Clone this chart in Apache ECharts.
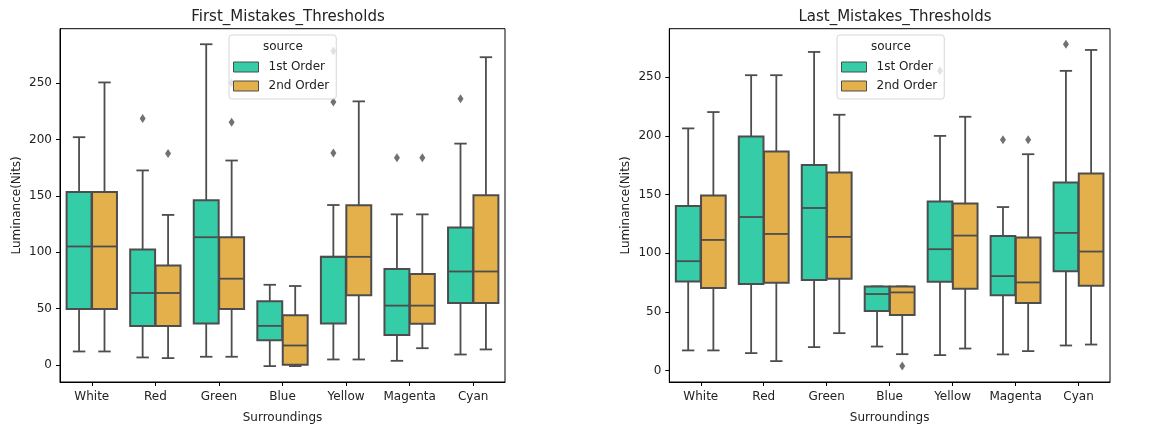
<!DOCTYPE html>
<html>
<head>
<meta charset="utf-8">
<script src="https://cdn.jsdelivr.net/npm/echarts@6/dist/echarts.min.js"></script>
<style>
  html, body { margin: 0; padding: 0; background: #fff; }
  #main { width: 1155px; height: 429px; }
</style>
</head>
<body>
<div id="main"></div>
<script>
// categories and tick labels
var categories = ['White', 'Red', 'Green', 'Blue', 'Yellow', 'Magenta', 'Cyan'];
var yTicksLeft = [0, 50, 100, 150, 200, 250];
var yTicksRight = [0, 50, 100, 150, 200, 250];

// box values: [low whisker, Q1, median, Q3, high whisker]
var firstMistakes1st = [
	[11.8, 49.5, 105, 153.3, 202],
	[6.5, 34.5, 63.7, 102.3, 172.5],
	[7.1, 36.6, 113.2, 146, 284.5],
	[-1.2, 21.8, 34.5, 56.3, 71],
	[4.7, 36.6, 95.8, 95.8, 141.8],
	[3.5, 26.5, 52.5, 84.9, 133.5],
	[9.1, 54.8, 82.8, 121.8, 196.3]
];
var firstMistakes2nd = [
	[11.8, 49.5, 105, 153.3, 250.6],
	[5.9, 34.5, 63.7, 88.1, 133],
	[7.1, 49.5, 76.4, 113.2, 181.3],
	[-1.2, 0, 17.1, 43.9, 69.9],
	[4.7, 61.6, 95.8, 141.5, 233.8],
	[14.7, 36.3, 52.5, 80.5, 133.5],
	[13.6, 54.8, 82.8, 150.4, 273]
];
var lastMistakes1st = [
	[17.3, 76.1, 93.3, 140.3, 206.4],
	[15, 73.8, 130.9, 199.4, 251.7],
	[20.1, 77.2, 138.6, 175.3, 271.5],
	[20.6, 50.9, 65.3, 71.8, 71.8],
	[13.3, 75.8, 103.5, 144.2, 200],
	[13.9, 64.2, 80.6, 114.8, 139.4],
	[21.5, 84.8, 117.4, 160.4, 255.4]
];
var lastMistakes2nd = [
	[17.3, 70.4, 111.4, 149.3, 220.3],
	[8.2, 74.9, 116.5, 186.7, 251.7],
	[32, 78.3, 114, 168.8, 218],
	[14.1, 47.5, 66.7, 71.8, 71.8],
	[18.9, 69.9, 115.1, 142.5, 216.3],
	[16.7, 57.7, 75.2, 113.4, 184.4],
	[22.3, 72.4, 101.5, 168, 273.2]
];

// outliers: [category index, value]
var firstOutliers1st = [[1, 218.5], [4, 233.2], [4, 188], [4, 278.6], [5, 183.7], [6, 236.1]];
var firstOutliers2nd = [[1, 187.5], [2, 215.2], [2, 250], [5, 183.7]];
var lastOutliers1st = [[4, 255.4], [5, 196.8], [6, 278]];
var lastOutliers2nd = [[3, 4], [5, 196.8]];

var COLOR_1ST = '#35cca8';
var COLOR_2ND = '#e3b04b';
var LINE = '#4d4d4d';
var FONT = 'DejaVu Sans';

function toRows(arr) {
	return arr.map(function(d, i) { return [i].concat(d); });
}

// draws one seaborn-like box, side = -1 (left hue) or +1 (right hue)
function boxRenderer(side) {
	return function(params, api) {
		var c = api.value(0);
		var band = api.size([1, 0])[0];
		var x = api.coord([c, 0])[0] + side * band * 0.2;
		var w = band * 0.4 * 0.98;
		var cap = w * 0.5;
		var y = [1, 2, 3, 4, 5].map(function(d) {
			return api.coord([c, api.value(d)])[1];
		});
		var ls = { stroke: LINE, lineWidth: 1.8 };
		return {
			type : 'group',
			children : [
				{ type : 'line', shape : { x1 : x, y1 : y[0], x2 : x, y2 : y[1] }, style : ls },
				{ type : 'line', shape : { x1 : x, y1 : y[3], x2 : x, y2 : y[4] }, style : ls },
				{ type : 'line', shape : { x1 : x - cap / 2, y1 : y[0], x2 : x + cap / 2, y2 : y[0] }, style : ls },
				{ type : 'line', shape : { x1 : x - cap / 2, y1 : y[4], x2 : x + cap / 2, y2 : y[4] }, style : ls },
				{ type : 'rect', shape : { x : x - w / 2, y : y[3], width : w, height : y[1] - y[3] },
					style : { fill : api.visual('color'), stroke : LINE, lineWidth : 2 } },
				{ type : 'line', shape : { x1 : x - w / 2, y1 : y[2], x2 : x + w / 2, y2 : y[2] }, style : ls }
			]
		};
	};
}

function boxSeries(name, idx, data, side, color) {
	return {
		name : name,
		type : 'custom',
		xAxisIndex : idx,
		yAxisIndex : idx,
		itemStyle : { color : color },
		encode : { x : 0, y : [1, 2, 3, 4, 5] },
		renderItem : boxRenderer(side),
		data : toRows(data),
		z : 2
	};
}

function outlierSeries(idx, data, offset) {
	return {
		name : 'outliers',
		type : 'scatter',
		xAxisIndex : idx,
		yAxisIndex : idx,
		symbol : 'diamond',
		symbolSize : [6, 9],
		symbolOffset : [offset, 0],
		itemStyle : { color : LINE },
		data : data,
		z : 2
	};
}

function axisPair(gridIdx, ticks, min, max) {
	return {
		x : {
			type : 'category',
			gridIndex : gridIdx,
			data : categories,
			name : 'Surroundings',
			nameLocation : 'middle',
			nameGap : 30,
			nameTextStyle : { fontFamily : FONT, fontSize : 12, color : '#222' },
			axisLine : { onZero : false, lineStyle : { color : '#000', width : 1 } },
			axisTick : { show : true, alignWithLabel : true, length : 4, lineStyle : { color : '#000' } },
			axisLabel : { interval : 0, fontFamily : FONT, fontSize : 12, color : '#222', margin : 9 },
			splitLine : { show : false }
		},
		y : {
			type : 'value',
			gridIndex : gridIdx,
			min : min,
			max : max,
			name : 'Luminance(Nits)',
			nameLocation : 'middle',
			nameGap : 37,
			nameTextStyle : { fontFamily : FONT, fontSize : 12, color : '#222' },
			axisLine : { show : true, onZero : false, lineStyle : { color : '#000', width : 1 } },
			axisTick : { show : true, length : 4, customValues : ticks, lineStyle : { color : '#000' } },
			axisLabel : { fontFamily : FONT, fontSize : 12, color : '#222', margin : 8, customValues : ticks },
			splitLine : { show : false }
		}
	};
}

function legendBox(left) {
	return {
		left : left,
		top : 35,
		orient : 'vertical',
		icon : 'rect',
		itemWidth : 25,
		itemHeight : 10,
		itemGap : 7,
		padding : [26, 7, 7, 4],
		backgroundColor : 'rgba(255,255,255,0.8)',
		borderColor : '#d6d6d6',
		borderWidth : 1,
		borderRadius : 3,
		itemStyle : { borderColor : LINE, borderWidth : 1 },
		textStyle : { fontFamily : FONT, fontSize : 12, color : '#222', padding : [0, 0, 0, 5] },
		data : ['1st Order', '2nd Order'],
		selectedMode : false
	};
}

var myChart = echarts.init(document.getElementById('main'));

var left = axisPair(0, yTicksLeft, -15.3, 298.3);
var right = axisPair(1, yTicksRight, -9.6, 291.3);

var option = {
	animation : false,
	title : [{
		text : 'First_Mistakes_Thresholds',
		left : 283,
		top : 5,
		textAlign : 'center',
		textStyle : { fontFamily : FONT, fontSize : 15, fontWeight : 'normal', color : '#222' }
	}, {
		text : 'Last_Mistakes_Thresholds',
		left : 890,
		top : 5,
		textAlign : 'center',
		textStyle : { fontFamily : FONT, fontSize : 15, fontWeight : 'normal', color : '#222' }
	}],
	grid : [{
		left : 60, top : 28.7, width : 445, height : 354.6,
		show : true, borderColor : '#000', borderWidth : 1, backgroundColor : '#fff'
	}, {
		left : 669.3, top : 28.7, width : 440.7, height : 354.6,
		show : true, borderColor : '#000', borderWidth : 1, backgroundColor : '#fff'
	}],
	legend : [legendBox(229), legendBox(837)],
	graphic : [{
		type : 'text', left : 263, top : 41, z : 100,
		style : { text : 'source', fontFamily : FONT, fontSize : 12, fill : '#222' }
	}, {
		type : 'text', left : 871, top : 41, z : 100,
		style : { text : 'source', fontFamily : FONT, fontSize : 12, fill : '#222' }
	}],
	xAxis : [left.x, right.x],
	yAxis : [left.y, right.y],
	series : [
		boxSeries('1st Order', 0, firstMistakes1st, -1, COLOR_1ST),
		boxSeries('2nd Order', 0, firstMistakes2nd, 1, COLOR_2ND),
		boxSeries('1st Order', 1, lastMistakes1st, -1, COLOR_1ST),
		boxSeries('2nd Order', 1, lastMistakes2nd, 1, COLOR_2ND),
		outlierSeries(0, firstOutliers1st, -12.7),
		outlierSeries(0, firstOutliers2nd, 12.7),
		outlierSeries(1, lastOutliers1st, -12.6),
		outlierSeries(1, lastOutliers2nd, 12.6)
	]
};

myChart.setOption(option);
</script>
</body>
</html>
